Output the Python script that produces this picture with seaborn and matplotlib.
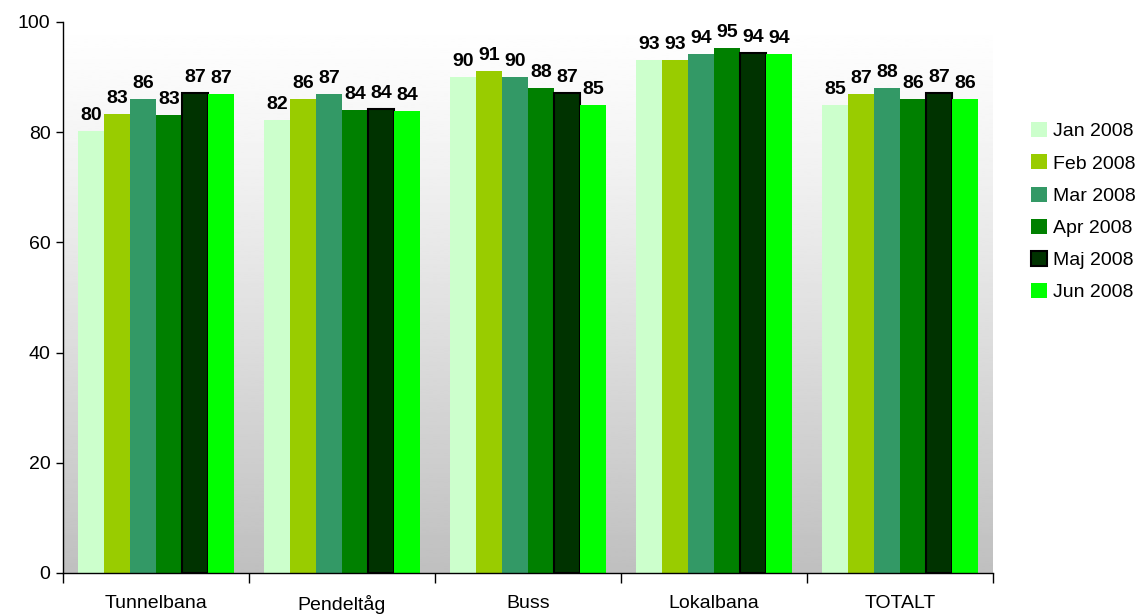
import numpy as np
import pandas as pd
import matplotlib
matplotlib.use("Agg")
import matplotlib.pyplot as plt
from matplotlib.patches import Patch
import seaborn as sns

categories = ["Tunnelbana", "Pendeltåg", "Buss", "Lokalbana", "TOTALT"]
months = ["Jan 2008", "Feb 2008", "Mar 2008", "Apr 2008", "Maj 2008", "Jun 2008"]
jan = [80.2, 82.2, 90.0, 93.1, 84.9]
feb = [83.3, 86.0, 91.1, 93.1, 86.9]
mar = [86.0, 87.0, 90.0, 94.2, 88.0]
apr = [83.2, 84.0, 88.0, 95.3, 86.0]
maj = [87.1, 84.2, 87.1, 94.4, 87.1]
jun = [86.9, 83.8, 84.9, 94.2, 86.0]
colors = ["#CCFFCC", "#99CC00", "#339966", "#008000", "#003300", "#00FF00"]

series = [jan, feb, mar, apr, maj, jun]
df = pd.DataFrame(
    [(c, m, v) for m, vals in zip(months, series) for c, v in zip(categories, vals)],
    columns=["kategori", "manad", "varde"],
)

sns.set_style("white")
plt.rcParams["font.family"] = ["Liberation Sans", "DejaVu Sans"]
plt.rcParams["text.color"] = "black"
plt.rcParams["xtick.color"] = "black"
plt.rcParams["ytick.color"] = "black"

fig = plt.figure(figsize=(11.39, 6.14), dpi=100)
ax = fig.add_axes([0.0553, 0.0668, 0.8165, 0.8974])

# gradient background, white at top to grey at bottom
t = np.linspace(0, 1, 256)[:, None]
grad = 1 - 0.25 * t ** 1.15
ax.imshow(grad, cmap="gray", vmin=0, vmax=1, aspect="auto", interpolation="bilinear",
          extent=[0, 1, 0, 1], transform=ax.transAxes, zorder=0)

sns.barplot(data=df, x="kategori", y="varde", hue="manad", order=categories,
            hue_order=months, palette=colors, width=0.84, gap=0,
            saturation=1, legend=False, ax=ax, zorder=2)

for i, cont in enumerate(ax.containers):
    for bar in cont:
        if months[i] == "Maj 2008":
            bar.set_edgecolor("black")
            bar.set_linewidth(1.5)
        else:
            bar.set_linewidth(0)
    ax.bar_label(cont, fmt="%.0f", padding=5, fontsize=14, fontweight="bold",
                 color="black")

ax.set_xlim(-0.5, 4.5)
ax.set_ylim(0, 100)
ax.set_yticks([0, 20, 40, 60, 80, 100])
ax.set_xlabel("")
ax.set_ylabel("")
ax.set_xticks(np.arange(-0.5, 5, 1), minor=True)
ax.tick_params(axis="x", which="major", length=0, pad=16, labelsize=14)
ax.tick_params(axis="x", which="minor", length=7, width=1, direction="out", bottom=True)
ax.tick_params(axis="y", length=5, width=1, direction="out", left=True, labelsize=14, pad=4)
for side in ["top", "right"]:
    ax.spines[side].set_visible(False)
for side in ["left", "bottom"]:
    ax.spines[side].set_color("black")
    ax.spines[side].set_linewidth(1)

handles = [Patch(facecolor=c, edgecolor="black" if m == "Maj 2008" else c,
                 linewidth=1.5 if m == "Maj 2008" else 0)
           for c, m in zip(colors, months)]
fig.legend(handles, months, loc="center left", bbox_to_anchor=(0.89, 0.655),
           frameon=False, fontsize=14, labelspacing=0.72, handlelength=0.8,
           handleheight=0.8, handletextpad=0.3)

fig.savefig("out.png", dpi=100)
